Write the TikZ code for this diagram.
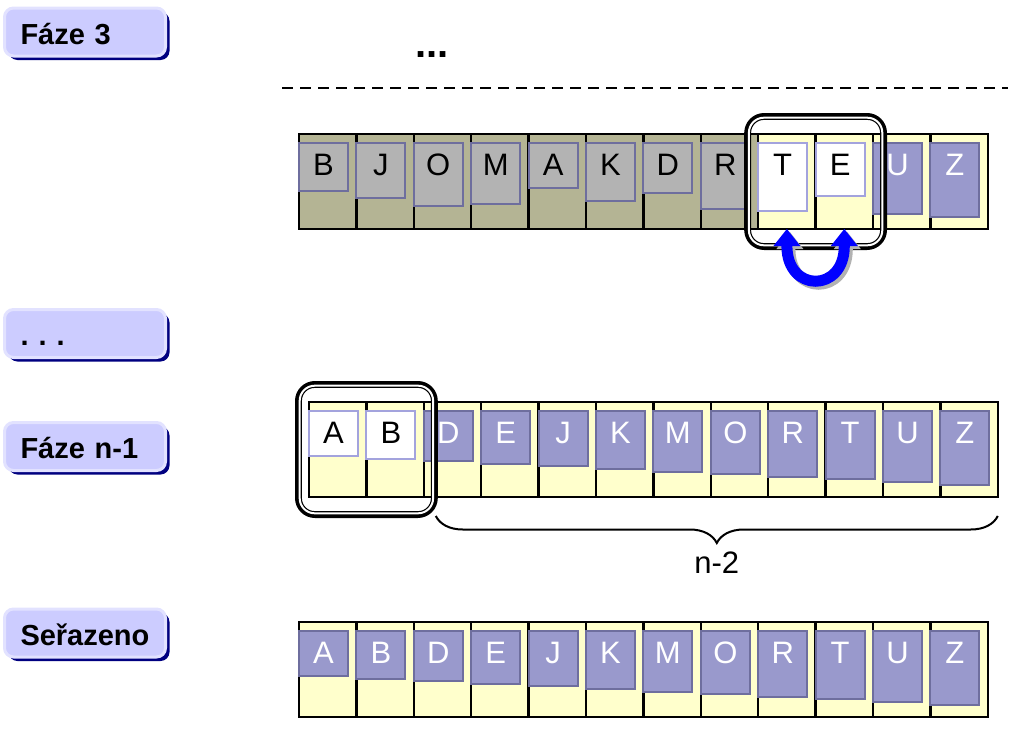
\documentclass[tikz,border=0pt]{standalone}
\usepackage{fontspec}
\setmainfont{Liberation Sans}
\usetikzlibrary{arrows.meta,decorations.pathreplacing,shadows,fit}
\definecolor{phasefill}{HTML}{CCCCFF}
\definecolor{phaseedge}{HTML}{E2E2FF}
\definecolor{phaseshade}{HTML}{000080}
\definecolor{cellold}{HTML}{B4B494}
\definecolor{cellnew}{HTML}{FFFFCC}
\definecolor{tilegray}{HTML}{B3B3B3}
\definecolor{tilesorted}{HTML}{9999CC}
\definecolor{tileedge}{HTML}{6E6E9E}
\definecolor{tileedgelight}{HTML}{A3A3DD}
\tikzset{
  phase/.style={draw=phaseedge, line width=3pt, fill=phasefill, rounded corners=9pt,
    drop shadow={shadow xshift=4pt, shadow yshift=-4pt, fill=phaseshade, opacity=1},
    anchor=west, outer sep=0pt, minimum width=161pt, minimum height=48pt,
    inner xsep=15pt, text width=129pt, align=left, text height=24pt, text depth=0pt,
    font=\fontsize{29}{34}\selectfont\bfseries},
  cell/.style={draw=black, line width=2.5pt, anchor=north west, inner sep=0pt, outer sep=0pt,
    minimum width=57.4pt, minimum height=95pt},
  tile/.style={draw=tileedge, line width=2pt, anchor=north, inner sep=0pt, outer sep=0pt,
    minimum width=49pt, text height=32pt, font=\fontsize{31}{36}\selectfont},
  idle/.style={tile, fill=tilegray},
  pick/.style={tile, fill=white, draw=tileedgelight},
  done/.style={tile, fill=tilesorted, text=white},
  cmpbox/.style={draw, line width=4pt, rounded corners=18pt, inner xsep=12pt, inner ysep=19pt, outer sep=0pt},
  cmpring/.style={draw, line width=1.2pt, double=white, double distance=2pt, rounded corners=15pt,
    inner xsep=9.3pt, inner ysep=16.3pt},
  swaparrow/.style={draw=blue, line width=11pt,
    arrows={Triangle[width=27pt,length=17pt,line width=0pt]-Triangle[width=27pt,length=17pt,line width=0pt]}},
}
\begin{document}
\begin{tikzpicture}[x=1pt, y=-1pt]
  \useasboundingbox (0,0) rectangle (1020,736);
  \node[phase] (phase3) at (4.5,32) {Fáze 3};
  \node[phase] (phasedots) at (4.5,333.5) {.\hspace{10pt}.\hspace{10pt}.};
  \node[phase] (phaselast) at (4.5,446.5) {Fáze n-1};
  \node[phase] (sorted) at (4.5,633) {Seřazeno};
  \node[font=\fontsize{40}{48}\selectfont\bfseries] (more) at (432,55) {...};
  \draw[line width=2pt, dash pattern=on 11pt off 7pt] (282,88) -- (1008,88);
  \foreach \ch/\r/\kind/\bg [count=\i from 0] in {B/1/idle/cellold, J/4/idle/cellold,
      O/7/idle/cellold, M/6/idle/cellold, A/0/idle/cellold, K/5/idle/cellold,
      D/2/idle/cellold, R/8/idle/cellold, T/9/pick/cellnew, E/3/pick/cellnew,
      U/10/done/cellnew, Z/11/done/cellnew}{
    \pgfmathsetmacro\dep{13+2.6*\r}
    \node[cell, fill=\bg] (a\i) at (299+57.4*\i,134) {};
    \node[\kind, text depth=\dep pt] (ta\i) at (323.5+57.4*\i,143) {\ch};
  }
  \foreach \ch/\r/\kind [count=\i from 0] in {A/0/pick, B/1/pick, D/2/done, E/3/done,
      J/4/done, K/5/done, M/6/done, O/7/done, R/8/done, T/9/done, U/10/done, Z/11/done}{
    \pgfmathsetmacro\dep{13+2.6*\r}
    \node[cell, fill=cellnew] (b\i) at (309+57.4*\i,402) {};
    \node[\kind, text depth=\dep pt] (tb\i) at (333.5+57.4*\i,411) {\ch};
  }
  \foreach \ch/\r [count=\i from 0] in {A/0, B/1, D/2, E/3, J/4, K/5, M/6, O/7, R/8,
      T/9, U/10, Z/11}{
    \pgfmathsetmacro\dep{13+2.6*\r}
    \node[cell, fill=cellnew] (c\i) at (299+57.4*\i,622) {};
    \node[done, text depth=\dep pt] (tc\i) at (323.5+57.4*\i,631) {\ch};
  }
  \node[cmpbox, fit=(a8)(a9)] (swapbox) {};
  \node[cmpring, fit=(a8)(a9)] (swapring) {};
  \node[cmpbox, fit=(b0)(b1)] (minbox) {};
  \node[cmpring, fit=(b0)(b1)] (minring) {};
  \begin{scope}
    \draw[swaparrow, draw=gray!60, transform canvas={shift={(3pt,-3pt)}}]
      (a8.south) .. controls +(0,64) and +(0,64) .. (a9.south);
    \draw[swaparrow] (a8.south) .. controls +(0,64) and +(0,64) .. (a9.south);
  \end{scope}
  \draw[line width=2pt, decorate, decoration={brace, amplitude=27pt, mirror}]
    (minbox.south east) -- (minbox.south east -| b11.east)
    node[midway, yshift=-47pt, font=\fontsize{31}{36}\selectfont] (rest) {n-2};
\end{tikzpicture}
\end{document}
